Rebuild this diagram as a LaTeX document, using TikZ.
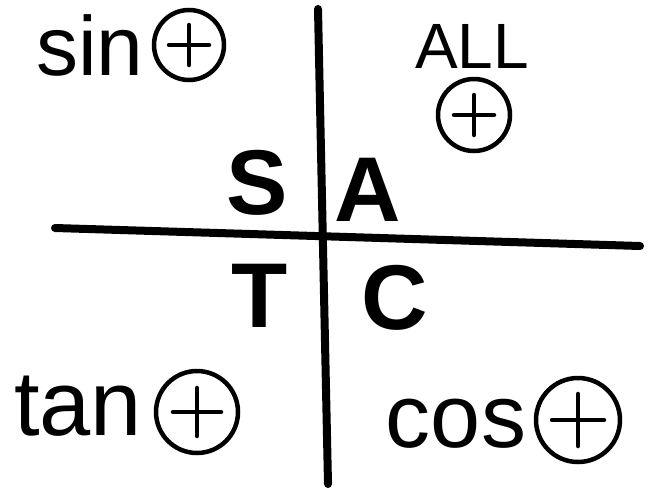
\documentclass[tikz,border=0pt]{standalone}
\usepackage{fontspec}
\setmainfont{Liberation Sans}
\begin{document}
\begin{tikzpicture}[x=1pt,y=-1pt,
  axis/.style={line width=8pt,line cap=round},
  ring/.style={circle,draw,line width=4.5pt,inner sep=0pt},
  plusline/.style={line width=4.5pt,line cap=round},
  word/.style={inner sep=0pt,anchor=center},
  big/.style={word,font=\bfseries\fontsize{92}{92}\selectfont}]
\useasboundingbox (0,0) rectangle (653,493);
\coordinate (vt) at (318,9);
\coordinate (vb) at (328,484);
\coordinate (hl) at (55,228);
\coordinate (hr) at (640,246);
\draw[axis] (vt) -- (vb);
\draw[axis] (hl) -- (hr);
\node[big] (S) at (257,183) {S};
\node[big] (A) at (368,190) {A};
\node[big] (T) at (260,296) {T};
\node[big] (C) at (395,298) {C};
\node[word,font=\fontsize{84}{84}\selectfont] (sin) at (90,45) {sin};
\node[ring,minimum size=70pt] (p1) at (189,45) {};
\node[word,font=\fontsize{64}{64}\selectfont] (all) at (472,46) {ALL};
\node[ring,minimum size=72pt] (p2) at (474,115) {};
\node[word,font=\fontsize{92}{92}\selectfont] (tan) at (78,406) {tan};
\node[ring,minimum size=82pt] (p3) at (197,412) {};
\node[word,font=\fontsize{90}{90}\selectfont] (cos) at (456,424) {cos};
\node[ring,minimum size=84pt] (p4) at (578,420) {};
\foreach \p/\r in {p1/20,p2/20,p3/24,p4/26}{
  \draw[plusline] ([xshift=-\r pt]\p.center) -- ([xshift=\r pt]\p.center);
  \draw[plusline] ([yshift=-\r pt]\p.center) -- ([yshift=\r pt]\p.center);
}
\end{tikzpicture}
\end{document}
